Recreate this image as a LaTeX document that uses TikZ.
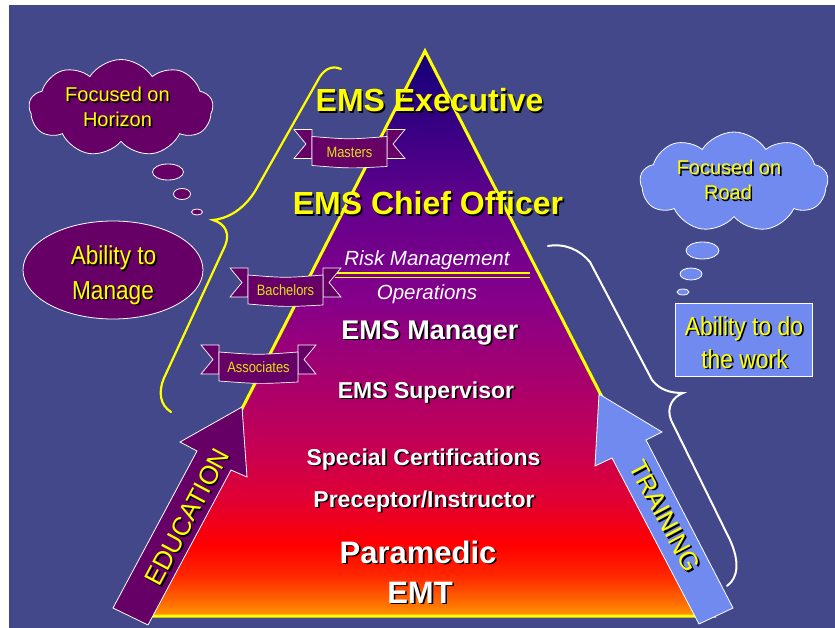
\documentclass[tikz,border=0pt]{standalone}
\usepackage{fontspec}
\setmainfont{Liberation Sans}
\usetikzlibrary{shapes.symbols,shapes.geometric,calc}
\definecolor{bgblue}{RGB}{66,72,137}
\definecolor{pur}{RGB}{102,0,102}
\definecolor{lblue}{RGB}{112,138,240}
\definecolor{yel}{RGB}{255,255,0}
\definecolor{ryel}{RGB}{225,225,20}
\pgfdeclareverticalshading{pyr}{100bp}{rgb(0bp)=(1,0.6,0); rgb(25bp)=(1,0.6,0); rgb(26.4bp)=(1,0.4,0); rgb(28.6bp)=(1,0.15,0); rgb(31.3bp)=(1,0,0); rgb(35.3bp)=(0.88,0,0.2); rgb(39.7bp)=(0.78,0,0.32); rgb(44.1bp)=(0.69,0,0.4); rgb(53bp)=(0.52,0,0.54); rgb(61.8bp)=(0.38,0,0.55); rgb(70.7bp)=(0.16,0,0.5); rgb(75bp)=(0.08,0,0.47); rgb(100bp)=(0.08,0,0.47)}
\newcommand\fs[1]{\fontsize{#1}{#1}\selectfont}
\newcommand\shtxt[4]{%
  \node[#2, text=black] (#1-s) at ($(#3)+(1.7,1.7)$) {#4};
  \node[#2] (#1) at (#3) {#4};}
\newcommand\ribbon[5]{% name, cx, cy, halfwidth, text
  \filldraw[fill=pur, draw=white, line width=0.7]
    ({#2-#4-18},{#3-22}) -- ({#2-#4},{#3-22}) -- ({#2-#4},{#3+7}) -- ({#2-#4-18},{#3+7}) -- ({#2-#4-6},{#3-7.5}) -- cycle;
  \filldraw[fill=pur, draw=white, line width=0.7]
    ({#2+#4+18},{#3-22}) -- ({#2+#4},{#3-22}) -- ({#2+#4},{#3+7}) -- ({#2+#4+18},{#3+7}) -- ({#2+#4+6},{#3-7.5}) -- cycle;
  \filldraw[fill=pur, draw=white, line width=0.7]
    ({#2-#4},{#3-15}) .. controls ({#2},{#3-12}) .. ({#2+#4},{#3-15}) -- ({#2+#4},{#3+15}) .. controls ({#2},{#3+17}) .. ({#2-#4},{#3+14}) -- cycle;
  \node[text=ryel, font=\fs{15}, anchor=center] (#1) at (#2,{#3+0.5}) {\scalebox{0.86}[1]{#5}};}
\begin{document}
\begin{tikzpicture}[x=1pt,y=-1pt,
  every node/.style={inner sep=0pt, outer sep=0pt},
  bigy/.style={anchor=base, text=yel, font=\bfseries\fs{32}},
  bigw/.style={anchor=base, text=white, font=\bfseries\fs{#1}},
  itw/.style={anchor=base, text=white, font=\itshape\fs{20.5}},
  ctxt/.style={anchor=base, text=yel, font=\fs{#1}},
  cloudL/.style={cloud, cloud puffs=9, cloud puff arc=115, aspect=1.9, draw=white, line width=0.8, minimum width=#1},
  bubble/.style={ellipse, draw=white, line width=0.8}]
\useasboundingbox (0,0) rectangle (835,628);
\fill[white] (0,0) rectangle (835,628);
\fill[bgblue] (9,5) rectangle (835,628);
% pyramid
\coordinate (apex) at (425,51);
\coordinate (bl) at (136,616);
\coordinate (br) at (714,616);
\shadedraw[shading=pyr, draw=yel, line width=3] (apex) -- (br) -- (bl) -- cycle;
\draw[yel, line width=1.6] (335,273) -- (530,273);
\draw[yel, line width=1.6] (335,277.5) -- (530,277.5);
% pyramid texts
\shtxt{exec}{bigy}{429.5,112}{EMS Executive}
\shtxt{chief}{bigy}{428,215}{EMS Chief Officer}
\node[itw] (risk) at (427,266) {Risk Management};
\node[itw] (ops) at (427,300) {Operations};
\shtxt{mgr}{bigw=27}{430,339}{EMS Manager}
\shtxt{sup}{bigw=23}{426,398}{EMS Supervisor}
\shtxt{spec}{bigw=23}{423.5,465}{Special Certifications}
\shtxt{prec}{bigw=23}{424,507}{Preceptor/Instructor}
\shtxt{para}{bigw=31}{418,563}{Paramedic}
\shtxt{emt}{bigw=31}{420,603}{EMT}
% braces
\draw[yel, line width=2.2, line cap=round] (341,69) .. controls (330,64) and (322,72) .. (318,80) -- (258,186) .. controls (248,205) and (232,218) .. (213,220) .. controls (226,224) and (230,234) .. (225,246) -- (164,378) .. controls (158,392) and (160,405) .. (171,412);
\draw[white, line width=2, line cap=round] (548,246) .. controls (565,243) and (580,250) .. (590,262) -- (652,380) .. controls (660,390) and (670,393) .. (683,393) .. controls (673,397) and (666,407) .. (671,420) -- (730,540) .. controls (740,562) and (738,578) .. (727,586);
% left cloud
\node[cloudL=184, fill=pur, minimum height=97] (cloudh) at (121,108) {};
\shtxt{fh1}{ctxt=20}{117.5,102}{Focused on}
\shtxt{fh2}{ctxt=20}{117.5,127}{Horizon}
\node[bubble, fill=pur, minimum width=31, minimum height=16] (bh1) at (168,172) {};
\node[bubble, fill=pur, minimum width=17, minimum height=11] (bh2) at (182,194) {};
\node[bubble, fill=pur, minimum width=11, minimum height=6] (bh3) at (197,212) {};
% right cloud
\node[cloudL=188, fill=lblue, minimum height=100] (cloudr) at (734,182) {};
\shtxt{fr1}{ctxt=20}{729,175}{Focused on}
\shtxt{fr2}{ctxt=20}{728,200}{Road}
\node[bubble, fill=lblue, minimum width=33, minimum height=17] (br1) at (702.5,250.5) {};
\node[bubble, fill=lblue, minimum width=22, minimum height=12] (br2) at (691,274) {};
\node[bubble, fill=lblue, minimum width=12, minimum height=6] (br3) at (683,292) {};
% ability to manage
\node[ellipse, draw=white, line width=0.8, fill=pur, minimum width=180, minimum height=98] (mgmt) at (113,270) {};
\shtxt{am1}{ctxt=26}{113.5,265}{\scalebox{0.87}[1]{Ability to}}
\shtxt{am2}{ctxt=26}{113,299}{\scalebox{0.87}[1]{Manage}}
% ability to do the work
\node[draw=white, line width=0.8, fill=lblue, minimum width=137, minimum height=73] (work) at (743.5,339.5) {};
\shtxt{aw1}{ctxt=26}{744,335}{\scalebox{0.88}[1]{Ability to do}}
\shtxt{aw2}{ctxt=26}{744.5,368}{\scalebox{0.88}[1]{the work}}
% ribbons
\ribbon{masters}{349.5}{151.5}{37.5}{Masters}
\ribbon{bach}{285.5}{290}{37.5}{Bachelors}
\ribbon{assoc}{258.5}{367}{39.5}{Associates}
% arrows
\filldraw[fill=pur, draw=white, line width=0.8] (242,407) -- (247,477) -- (231,470) -- (148,625) -- (113,608) -- (197,451) -- (180,442) -- cycle;
\shtxt{edu}{anchor=center, rotate=62, text=yel, font=\fs{26}}{187,517}{EDUCATION}
\filldraw[fill=lblue, draw=white, line width=0.8] (599,394) -- (662,432) -- (646,440) -- (733,608) -- (699,624) -- (612,458) -- (595,466) -- cycle;
\shtxt{train}{anchor=center, rotate=-62, text=yel, font=\fs{25.5}}{665,516}{TRAINING}
\end{tikzpicture}
\end{document}
